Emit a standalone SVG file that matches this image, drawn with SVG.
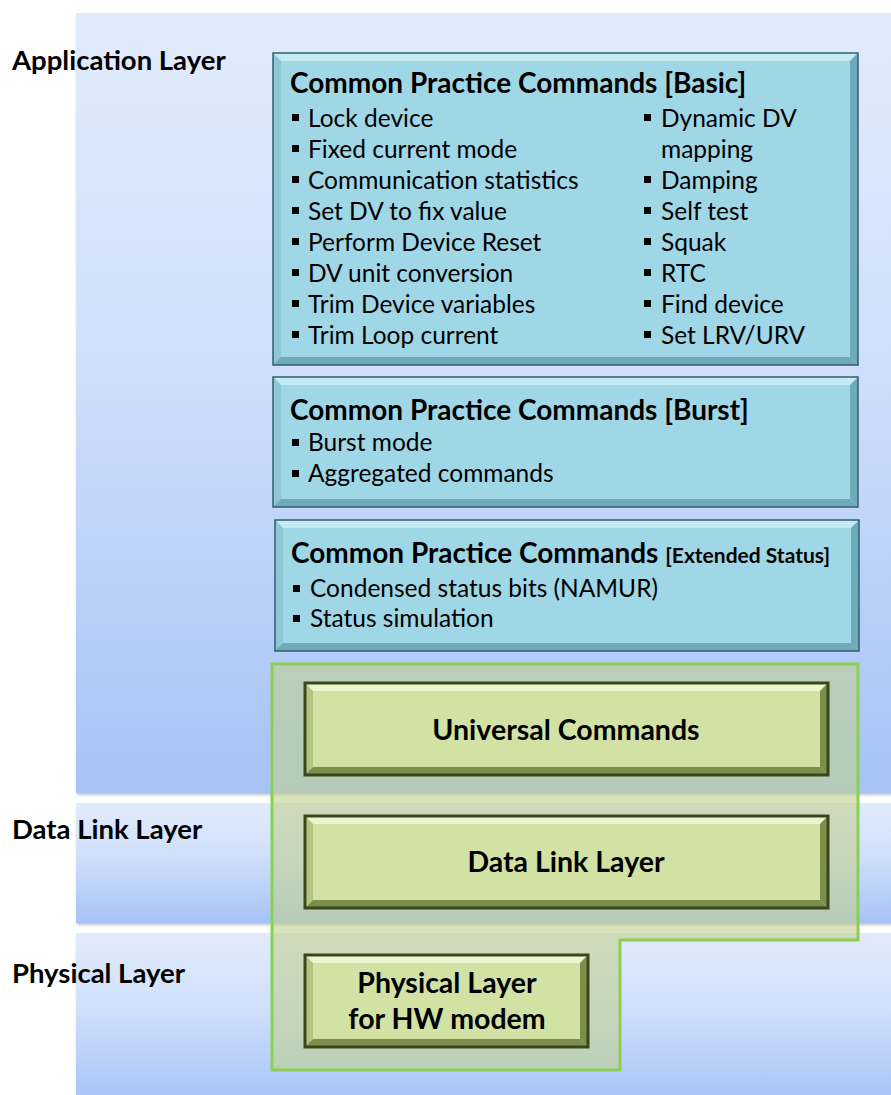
<svg xmlns="http://www.w3.org/2000/svg" width="891" height="1095" viewBox="0 0 891 1095">
<defs>
<linearGradient id="band" x1="0" y1="0" x2="0" y2="1">
<stop offset="0" stop-color="#e2ebfc"/>
<stop offset="0.45" stop-color="#cfdffb"/>
<stop offset="1" stop-color="#a6c3f6"/>
</linearGradient>
<filter id="sh" x="-5%" y="-5%" width="110%" height="110%">
<feDropShadow dx="1" dy="2" stdDeviation="1.5" flood-color="#000" flood-opacity="0.25"/>
</filter>
</defs>
<style>
.lbl{font-family:Lato,"Open Sans","Liberation Sans",sans-serif;font-weight:bold;font-size:27.5px;fill:#000}
.item{font-family:Lato,"Open Sans","Liberation Sans",sans-serif;font-size:24.5px;fill:#000}
.ttl{font-family:Lato,"Open Sans","Liberation Sans",sans-serif;font-weight:bold;font-size:28px;fill:#000}
.gt{font-family:Lato,"Open Sans","Liberation Sans",sans-serif;font-weight:bold;font-size:28.5px;fill:#000}
.cfill{fill:#a0d7e7}
.cedge{fill:none;stroke:#2f5f6e;stroke-width:1.5}
.bl{fill:#c4eaf4}
.bd{fill:#6fa9ba}
.bm{fill:#8ec6d6}
.gfill{fill:#d2e2a5}
.gedge{fill:none;stroke:#38481c;stroke-width:3}
.gl{fill:#ecf5cf}
.gd{fill:#7c8f4c}
.gm{fill:#b2c680}
.bul{fill:#000}
</style>

<g id="bands">
<rect x="76" y="13" width="830" height="780" fill="url(#band)" filter="url(#sh)"/>
<rect x="76" y="803" width="830" height="120" fill="url(#band)" filter="url(#sh)"/>
<rect x="76" y="933" width="830" height="170" fill="url(#band)" filter="url(#sh)"/>
</g>

<g id="layer-labels">
<text class="lbl" x="12" y="70">Application Layer</text>
<text class="lbl" x="12" y="839">Data Link Layer</text>
<text class="lbl" x="12" y="983">Physical Layer</text>
</g>

<g id="container">
<path d="M272,664 H858 V940 H620 V1070 H272 Z" fill="#c0d090" fill-opacity="0.6" stroke="#8ccf52" stroke-width="3"/>
</g>

<g id="basic">
<rect class="cfill" x="273" y="53" width="585" height="312"/>
<polygon class="bl" points="273,53 858,53 850,61 281,61"/>
<polygon class="bm" points="273,53 281,61 281,357 273,365"/>
<polygon class="bd" points="858,53 858,365 850,357 850,61"/>
<polygon class="bd" points="273,365 858,365 850,357 281,357"/>
<rect class="cedge" x="273" y="53" width="585" height="312"/>
<text class="ttl" x="290" y="93">Common Practice Commands [Basic]</text>
<g class="item">
<rect class="bul" x="292" y="114" width="7" height="7"/><text x="308" y="127">Lock device</text>
<rect class="bul" x="292" y="145" width="7" height="7"/><text x="308" y="158">Fixed current mode</text>
<rect class="bul" x="292" y="176" width="7" height="7"/><text x="308" y="189">Communication statistics</text>
<rect class="bul" x="292" y="207" width="7" height="7"/><text x="308" y="220">Set DV to fix value</text>
<rect class="bul" x="292" y="238" width="7" height="7"/><text x="308" y="251">Perform Device Reset</text>
<rect class="bul" x="292" y="269" width="7" height="7"/><text x="308" y="282">DV unit conversion</text>
<rect class="bul" x="292" y="300" width="7" height="7"/><text x="308" y="313">Trim Device variables</text>
<rect class="bul" x="292" y="331" width="7" height="7"/><text x="308" y="344">Trim Loop current</text>
<rect class="bul" x="644" y="114" width="7" height="7"/><text x="661" y="127">Dynamic DV</text>
<text x="661" y="158">mapping</text>
<rect class="bul" x="644" y="176" width="7" height="7"/><text x="661" y="189">Damping</text>
<rect class="bul" x="644" y="207" width="7" height="7"/><text x="661" y="220">Self test</text>
<rect class="bul" x="644" y="238" width="7" height="7"/><text x="661" y="251">Squak</text>
<rect class="bul" x="644" y="269" width="7" height="7"/><text x="661" y="282">RTC</text>
<rect class="bul" x="644" y="300" width="7" height="7"/><text x="661" y="313">Find device</text>
<rect class="bul" x="644" y="331" width="7" height="7"/><text x="661" y="344">Set LRV/URV</text>
</g>
</g>

<g id="burst">
<rect class="cfill" x="273" y="377" width="585" height="130"/>
<polygon class="bl" points="273,377 858,377 850,385 281,385"/>
<polygon class="bm" points="273,377 281,385 281,499 273,507"/>
<polygon class="bd" points="858,377 858,507 850,499 850,385"/>
<polygon class="bd" points="273,507 858,507 850,499 281,499"/>
<rect class="cedge" x="273" y="377" width="585" height="130"/>
<text class="ttl" x="290" y="420">Common Practice Commands [Burst]</text>
<g class="item">
<rect class="bul" x="292" y="439" width="7" height="7"/><text x="308" y="451">Burst mode</text>
<rect class="bul" x="292" y="470" width="7" height="7"/><text x="308" y="482">Aggregated commands</text>
</g>
</g>

<g id="extended">
<rect class="cfill" x="275" y="520" width="584" height="131"/>
<polygon class="bl" points="275,520 859,520 851,528 283,528"/>
<polygon class="bm" points="275,520 283,528 283,643 275,651"/>
<polygon class="bd" points="859,520 859,651 851,643 851,528"/>
<polygon class="bd" points="275,651 859,651 851,643 283,643"/>
<rect class="cedge" x="275" y="520" width="584" height="131"/>
<text class="ttl" x="291" y="563">Common Practice Commands <tspan font-size="21px">[Extended Status]</tspan></text>
<g class="item">
<rect class="bul" x="293" y="585" width="7" height="7"/><text x="310" y="597">Condensed status bits (NAMUR)</text>
<rect class="bul" x="293" y="615" width="7" height="7"/><text x="310" y="627">Status simulation</text>
</g>
</g>

<g id="universal">
<rect class="gfill" x="305" y="683" width="523" height="92"/>
<polygon class="gl" points="305,683 828,683 820,691 313,691"/>
<polygon class="gm" points="305,683 313,691 313,767 305,775"/>
<polygon class="gd" points="828,683 828,775 820,767 820,691"/>
<polygon class="gd" points="305,775 828,775 820,767 313,767"/>
<rect class="gedge" x="305" y="683" width="523" height="92"/>
<text class="gt" x="566" y="740" text-anchor="middle">Universal Commands</text>
</g>

<g id="datalink">
<rect class="gfill" x="305" y="816" width="523" height="92"/>
<polygon class="gl" points="305,816 828,816 820,824 313,824"/>
<polygon class="gm" points="305,816 313,824 313,900 305,908"/>
<polygon class="gd" points="828,816 828,908 820,900 820,824"/>
<polygon class="gd" points="305,908 828,908 820,900 313,900"/>
<rect class="gedge" x="305" y="816" width="523" height="92"/>
<text class="gt" x="566" y="872" text-anchor="middle">Data Link Layer</text>
</g>

<g id="physical">
<rect class="gfill" x="305" y="955" width="283" height="92"/>
<polygon class="gl" points="305,955 588,955 580,963 313,963"/>
<polygon class="gm" points="305,955 313,963 313,1039 305,1047"/>
<polygon class="gd" points="588,955 588,1047 580,1039 580,963"/>
<polygon class="gd" points="305,1047 588,1047 580,1039 313,1039"/>
<rect class="gedge" x="305" y="955" width="283" height="92"/>
<text class="gt" x="447" y="993" text-anchor="middle">Physical Layer</text>
<text class="gt" x="447" y="1029" text-anchor="middle">for HW modem</text>
</g>

<g id="connectors"/>
</svg>
